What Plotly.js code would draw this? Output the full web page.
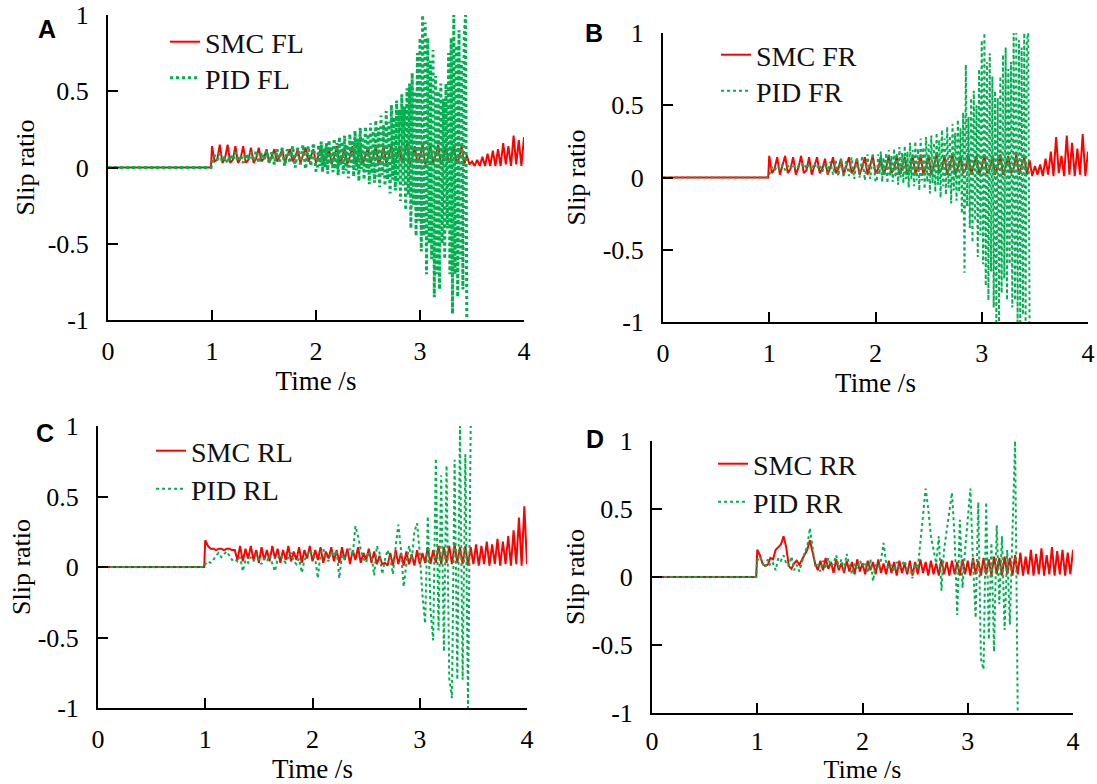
<!DOCTYPE html>
<html><head><meta charset="utf-8">
<script src="https://cdn.plot.ly/plotly-3.0.1.min.js"></script>
<style>html,body{margin:0;padding:0;background:#fff}#chart{width:1097px;height:784px}</style>
</head><body><div id="chart"></div>
<script>
// Shared time grid (s), 0.025 s step after t = 1
const TIME = [0, 0.99,
1, 1.025, 1.05, 1.075, 1.1, 1.125, 1.15, 1.175,
1.2, 1.225, 1.25, 1.275, 1.3, 1.325, 1.35, 1.375,
1.4, 1.425, 1.45, 1.475, 1.5, 1.525, 1.55, 1.575,
1.6, 1.625, 1.65, 1.675, 1.7, 1.725, 1.75, 1.775,
1.8, 1.825, 1.85, 1.875, 1.9, 1.925, 1.95, 1.975,
2, 2.025, 2.05, 2.075, 2.1, 2.125, 2.15, 2.175,
2.2, 2.225, 2.25, 2.275, 2.3, 2.325, 2.35, 2.375,
2.4, 2.425, 2.45, 2.475, 2.5, 2.525, 2.55, 2.575,
2.6, 2.625, 2.65, 2.675, 2.7, 2.725, 2.75, 2.775,
2.8, 2.825, 2.85, 2.875, 2.9, 2.925, 2.95, 2.975,
3, 3.025, 3.05, 3.075, 3.1, 3.125, 3.15, 3.175,
3.2, 3.225, 3.25, 3.275, 3.3, 3.325, 3.35, 3.375,
3.4, 3.425, 3.45, 3.475, 3.5, 3.525, 3.55, 3.575,
3.6, 3.625, 3.65, 3.675, 3.7, 3.725, 3.75, 3.775,
3.8, 3.825, 3.85, 3.875, 3.9, 3.925, 3.95, 3.975,
4];

// Finer time grid for the front-wheel PID traces (0.0125 s step after t = 2)
const TIME_FINE = [0, 0.99,
1, 1.025, 1.05, 1.075, 1.1, 1.125, 1.15, 1.175,
1.2, 1.225, 1.25, 1.275, 1.3, 1.325, 1.35, 1.375,
1.4, 1.425, 1.45, 1.475, 1.5, 1.525, 1.55, 1.575,
1.6, 1.625, 1.65, 1.675, 1.7, 1.725, 1.75, 1.775,
1.8, 1.825, 1.85, 1.875, 1.9, 1.925, 1.95, 1.975,
2,
2.0125, 2.025, 2.0375, 2.05, 2.0625, 2.075, 2.0875, 2.1,
2.1125, 2.125, 2.1375, 2.15, 2.1625, 2.175, 2.1875, 2.2,
2.2125, 2.225, 2.2375, 2.25, 2.2625, 2.275, 2.2875, 2.3,
2.3125, 2.325, 2.3375, 2.35, 2.3625, 2.375, 2.3875, 2.4,
2.4125, 2.425, 2.4375, 2.45, 2.4625, 2.475, 2.4875, 2.5,
2.5125, 2.525, 2.5375, 2.55, 2.5625, 2.575, 2.5875, 2.6,
2.6125, 2.625, 2.6375, 2.65, 2.6625, 2.675, 2.6875, 2.7,
2.7125, 2.725, 2.7375, 2.75, 2.7625, 2.775, 2.7875, 2.8,
2.8125, 2.825, 2.8375, 2.85, 2.8625, 2.875, 2.8875, 2.9,
2.9125, 2.925, 2.9375, 2.95, 2.9625, 2.975, 2.9875, 3,
3.0125, 3.025, 3.0375, 3.05, 3.0625, 3.075, 3.0875, 3.1,
3.1125, 3.125, 3.1375, 3.15, 3.1625, 3.175, 3.1875, 3.2,
3.2125, 3.225, 3.2375, 3.25, 3.2625, 3.275, 3.2875, 3.3,
3.3125, 3.325, 3.3375, 3.35, 3.3625, 3.375, 3.3875, 3.4,
3.4125, 3.425, 3.4375, 3.45];

// Panel A: front left
const smcFL = [0, 0,
0.14, 0.04, 0.05, 0.15, 0.03, 0.06, 0.15, 0.03,
0.05, 0.14, 0.03, 0.06, 0.14, 0.03, 0.05, 0.13,
0.03, 0.06, 0.13, 0.04, 0.06, 0.12, 0.03, 0.07,
0.12, 0.04, 0.07, 0.12, 0.03, 0.08, 0.12, 0.04,
0.07, 0.12, 0.03, 0.08, 0.13, 0.04, 0.07, 0.12,
0.03, 0.08, 0.13, 0.04, 0.06, 0.13, 0.02, 0.07,
0.14, 0.03, 0.06, 0.13, 0.02, 0.07, 0.14, 0.03,
0.06, 0.14, 0.02, 0.08, 0.13, 0.03, 0.07, 0.15,
0.02, 0.06, 0.14, 0.03, 0.07, 0.15, 0.02, 0.06,
0.14, 0.03, 0.08, 0.16, 0.02, 0.06, 0.14, 0.03,
0.07, 0.15, 0.02, 0.06, 0.14, 0.03, 0.08, 0.15,
0.02, 0.06, 0.14, 0.03, 0.07, 0.15, 0.03, 0.06,
0.14, 0.02, 0.08, 0.02, 0.04, 0.01, 0.05, 0.01,
0.07, 0.01, 0.09, 0.01, 0.11, 0.01, 0.12, 0.01,
0.16, 0.02, 0.14, 0.01, 0.21, 0.02, 0.18, 0.01,
0.20];
const pidFL = [0, 0,
0.03, 0.08, 0.05, 0.09, 0.04, 0.07, 0.03, 0.08,
0.05, 0.10, 0.04, 0.08, 0.03, 0.09, 0.05, 0.10,
0.04, 0.11, 0.03, 0.10, 0.05, 0.11, 0.03, 0.10,
0.02, 0.12, 0.04, 0.13, 0.01, 0.12, 0.03, 0.14,
0.00, 0.13, 0.02, 0.15, -0.01, 0.14, 0.01, 0.16,
-0.02,
-0.02, 0.15, 0.01, 0.17, -0.03, 0.13, 0.00, 0.16,
-0.04, 0.18, 0.02, 0.14, -0.03, 0.19, -0.01, 0.16,
-0.05, 0.20, 0.01, 0.17, -0.04, 0.21, -0.02, 0.15,
-0.07, 0.22, 0.00, 0.18, -0.06, 0.24, -0.02, 0.19,
-0.09, 0.26, -0.01, 0.20, -0.08, 0.27, -0.03, 0.22,
-0.11, 0.29, -0.04, 0.24, -0.10, 0.31, -0.06, 0.26,
-0.13, 0.34, -0.05, 0.28, -0.12, 0.37, -0.08, 0.30,
-0.17, 0.41, -0.08, 0.33, -0.15, 0.44, -0.10, 0.38,
-0.22, 0.48, -0.12, 0.40, -0.28, 0.52, -0.18, 0.55,
-0.40, 0.62, -0.25, 0.50, -0.45, 0.75, -0.35, 0.85,
-0.55, 1.0, -0.45, 0.95, -0.70, 0.85, -0.50, 0.70,
-0.60, 0.77, -0.85, 0.60, -0.70, 0.50, -0.80, 0.55,
-0.50, 0.45, -0.60, 0.55, -0.40, 0.75, -0.70, 0.85,
-0.96, 1.0, -0.70, 0.80, -0.85, 0.90, -0.60, 0.70,
-0.80, 0.85, 1.0, -1.0];

// Panel B: front right
const smcFR = [0, 0,
0.15, 0.03, 0.06, 0.14, 0.02, 0.08, 0.15, 0.03,
0.06, 0.14, 0.02, 0.07, 0.15, 0.03, 0.05, 0.14,
0.02, 0.08, 0.14, 0.03, 0.06, 0.13, 0.02, 0.07,
0.14, 0.03, 0.06, 0.13, 0.02, 0.08, 0.14, 0.03,
0.06, 0.13, 0.02, 0.07, 0.14, 0.02, 0.08, 0.15,
0.03, 0.06, 0.14, 0.02, 0.07, 0.15, 0.03, 0.06,
0.15, 0.02, 0.08, 0.14, 0.02, 0.07, 0.15, 0.03,
0.06, 0.16, 0.02, 0.07, 0.15, 0.02, 0.08, 0.16,
0.03, 0.06, 0.15, 0.02, 0.08, 0.16, 0.02, 0.07,
0.15, 0.03, 0.06, 0.16, 0.02, 0.08, 0.15, 0.02,
0.07, 0.16, 0.03, 0.06, 0.15, 0.02, 0.08, 0.16,
0.02, 0.07, 0.15, 0.03, 0.06, 0.16, 0.02, 0.08,
0.14, 0.02, 0.12, 0.01, 0.08, 0.02, 0.09, 0.01,
0.13, 0.02, 0.18, 0.01, 0.28, 0.03, 0.15, 0.01,
0.29, 0.02, 0.24, 0.01, 0.20, 0.02, 0.30, 0.01,
0.18];
const pidFR = [0, 0,
0.02, 0.07, 0.05, 0.08, 0.06, 0.09, 0.05, 0.08,
0.06, 0.09, 0.06, 0.08, 0.07, 0.10, 0.06, 0.09,
0.05, 0.10, 0.06, 0.09, 0.04, 0.10, 0.03, 0.11,
0.02, 0.12, 0.01, 0.13, 0.00, 0.12, 0.01, 0.14,
-0.01, 0.14, 0.00, 0.15, -0.02, 0.16, -0.01, 0.17,
-0.03,
-0.02, 0.16, 0.02, 0.18, -0.03, 0.14, 0.01, 0.17,
-0.04, 0.19, 0.01, 0.15, -0.03, 0.20, 0.00, 0.17,
-0.05, 0.21, 0.00, 0.17, -0.04, 0.22, -0.01, 0.18,
-0.07, 0.24, -0.01, 0.19, -0.06, 0.25, -0.02, 0.20,
-0.09, 0.27, -0.02, 0.21, -0.08, 0.28, -0.03, 0.23,
-0.11, 0.29, -0.04, 0.24, -0.10, 0.31, -0.05, 0.26,
-0.14, 0.33, -0.06, 0.27, -0.12, 0.35, -0.07, 0.29,
-0.18, 0.37, -0.09, 0.31, -0.16, 0.40, -0.10, 0.34,
-0.25, 0.45, -0.66, 0.78, -0.20, 0.42, -0.35, 0.55,
-0.45, 0.60, -0.30, 0.50, -0.55, 0.75, -0.40, 0.95,
-0.60, 1.0, -0.75, 0.80, -0.85, 0.86, -0.65, 0.70,
-0.90, 0.60, -1.0, 0.55, -1.0, 0.70, -0.80, 0.85,
-0.70, 0.90, -0.85, 0.75, -0.60, 0.80, -0.90, 1.0,
-0.85, 1.0, -1.0, 0.95, -1.0, 0.90, -0.95, 1.0,
-1.0, 0.95, 1.0, -1.0];

// Panel C: rear left
const smcRL = [0, 0,
0.19, 0.15, 0.13, 0.13, 0.12, 0.13, 0.13, 0.12,
0.13, 0.13, 0.12, 0.12, 0.05, 0.15, 0.04, 0.13,
0.06, 0.15, 0.05, 0.12, 0.03, 0.14, 0.05, 0.12,
0.04, 0.15, 0.06, 0.13, 0.03, 0.12, 0.05, 0.15,
0.04, 0.11, 0.05, 0.14, 0.03, 0.12, 0.06, 0.15,
0.04, 0.12, 0.05, 0.14, 0.03, 0.11, 0.06, 0.14,
0.04, 0.12, 0.03, 0.14, 0.05, 0.13, 0.02, 0.12,
0.05, 0.14, 0.03, 0.10, 0.05, 0.13, 0.03, 0.11,
0.02, 0.08, 0.02, 0.03, 0.01, 0.10, 0.01, 0.12,
0.02, 0.10, 0.01, 0.11, 0.02, 0.09, 0.01, 0.12,
0.02, 0.10, 0.03, 0.14, 0.02, 0.12, 0.03, 0.15,
0.02, 0.14, 0.03, 0.15, 0.02, 0.16, 0.03, 0.14,
0.02, 0.15, 0.01, 0.14, 0.02, 0.16, 0.01, 0.15,
0.02, 0.18, 0.01, 0.16, 0.02, 0.20, 0.01, 0.18,
0.02, 0.22, 0.01, 0.26, 0.02, 0.35, 0.01, 0.43,
0.02];
const pidRL = [0, 0,
0.02, 0.04, 0.03, 0.05, 0.08, 0.10, 0.07, 0.09,
0.11, 0.08, 0.05, 0.06, 0.04, 0.07, -0.03, 0.05,
0.03, 0.07, 0.04, 0.09, 0.05, 0.02, 0.06, 0.04,
0.08, 0.03, -0.03, 0.06, 0.09, 0.05, 0.03, 0.07,
0.10, 0.04, 0.02, 0.06, -0.04, 0.05, 0.08, 0.12,
0.09, 0.06, -0.08, 0.10, 0.13, 0.07, 0.04, 0.11,
0.08, 0.12, -0.08, 0.09, 0.06, 0.10, 0.13, 0.08,
0.29, 0.22, 0.12, 0.06, 0.03, 0.11, 0.08, -0.06,
0.15, 0.10, -0.05, 0.05, 0.12, 0.06, -0.05, 0.14,
0.30, 0.12, -0.14, 0.02, 0.15, 0.05, 0.25, 0.31,
0.10, -0.20, -0.40, 0.36, -0.30, -0.52, 0.77, -0.45,
0.65, -0.60, 0.72, -0.79, -0.93, 0.76, -0.80, 1.0,
-0.80, 0.80, -1.0, 1.0];

// Panel D: rear right
const smcRR = [0, 0,
0.20, 0.16, 0.10, 0.08, 0.09, 0.14, 0.13, 0.20,
0.22, 0.24, 0.30, 0.22, 0.08, 0.06, 0.10, 0.12,
0.09, 0.13, 0.16, 0.20, 0.27, 0.18, 0.10, 0.05,
0.12, 0.05, 0.14, 0.06, 0.11, 0.03, 0.13, 0.05,
0.10, 0.03, 0.12, 0.04, 0.11, 0.02, 0.13, 0.04,
0.10, 0.02, 0.12, 0.05, 0.11, 0.02, 0.13, 0.03,
0.10, 0.02, 0.12, 0.03, 0.11, 0.01, 0.12, 0.03,
0.10, 0.02, 0.12, 0.01, 0.11, 0.02, 0.13, 0.03,
0.11, 0.01, 0.12, 0.02, 0.10, 0.01, 0.13, 0.02,
0.11, 0.01, 0.12, 0.02, 0.11, 0.01, 0.13, 0.02,
0.12, 0.01, 0.14, 0.02, 0.12, 0.01, 0.14, 0.02,
0.13, 0.01, 0.15, 0.02, 0.14, 0.01, 0.15, 0.02,
0.14, 0.01, 0.16, 0.02, 0.18, 0.01, 0.15, 0.02,
0.20, 0.01, 0.17, 0.02, 0.21, 0.01, 0.16, 0.02,
0.22, 0.01, 0.19, 0.02, 0.20, 0.01, 0.18, 0.02,
0.20];
const pidRR = [0, 0,
0.12, 0.15, 0.10, 0.07, 0.13, 0.08, 0.10, 0.05,
0.14, 0.12, 0.16, 0.10, 0.08, 0.15, 0.05, 0.09,
0.04, 0.12, 0.18, 0.22, 0.36, 0.22, 0.08, 0.10,
0.04, 0.12, 0.06, 0.14, 0.08, 0.10, 0.16, 0.07,
0.13, 0.05, 0.17, 0.09, 0.02, 0.10, 0.06, 0.12,
0.08, 0.11, 0.03, 0.13, -0.03, 0.09, 0.07, 0.12,
0.25, 0.10, 0.06, 0.09, 0.04, 0.11, 0.07, 0.09,
0.12, 0.05, 0.08, -0.01, 0.10, 0.06, 0.25, 0.45,
0.65, 0.50, 0.30, 0.20, 0.10, 0.30, -0.10, 0.20,
0.35, 0.50, 0.62, 0.30, -0.28, 0.42, -0.08, 0.20,
0.45, 0.65, 0.10, -0.30, 0.55, -0.60, -0.68, 0.55,
-0.46, 0.25, -0.55, 0.38, -0.20, 0.30, -0.39, 0.20,
-0.35, 0.30, 1.0, -1.0];

const xTickVals = [0, 1, 2, 3, 4];
const xTickText = ['0', '1', '2', '3', '4'];
const yTickVals = [-1, -0.5, 0, 0.5, 1];
const yTickText = ['-1', '-0.5', '0', '0.5', '1'];
const panelLabels = ['A', 'B', 'C', 'D'];
const smcNames = ['SMC FL', 'SMC FR', 'SMC RL', 'SMC RR'];
const pidNames = ['PID FL', 'PID FR', 'PID RL', 'PID RR'];
const xTitle = 'Time /s';
const yTitle = 'Slip ratio';

const smcSeries = [smcFL, smcFR, smcRL, smcRR];
const pidSeries = [pidFL, pidFR, pidRL, pidRR];
const pidTimes = [TIME_FINE, TIME_FINE, TIME, TIME];

const SERIF = '"Liberation Serif", "Times New Roman", serif';
const W = 1097, H = 784;
// plot boxes in pixels: [left, right, top, bottom]
const boxes = [[108, 524, 15, 320], [663, 1088, 33, 322], [98, 527, 426, 708], [652, 1073, 441, 713]];
// legend: left x of the entry, centre y of row 1 and row 2 (pixels)
const legendPos = [[165, 42, 78], [716, 55, 91], [151, 451, 489], [713, 464, 502]];
const labelPos = [[47, 29], [594, 33], [45, 433], [595, 439]];
const yTitleStandoff = [6, 10, 0, 0];
const xTickStandoff = [7, 7, 7, 4];
const xTitleStandoff = [4, 4, 4, 8];
const xTitleSize = [27, 27, 27, 26];

const traces = [];
const layout = {
  width: W, height: H,
  margin: {l: 0, r: 0, t: 0, b: 0},
  paper_bgcolor: '#fff', plot_bgcolor: 'rgba(0,0,0,0)',
  showlegend: true,
  annotations: []
};

function legendBox(x, y) {
  return {
    x: x / W, y: 1 - y / H, xanchor: 'left', yanchor: 'middle',
    bgcolor: 'rgba(0,0,0,0)', borderwidth: 0, tracegroupgap: 0,
    font: {family: SERIF, size: 28, color: '#111'}
  };
}

for (let i = 0; i < 4; i++) {
  const sfx = i === 0 ? '' : String(i + 1);
  const [l, r, t, b] = boxes[i];
  const legA = 'legend' + (2 * i === 0 ? '' : String(2 * i + 1));
  const legB = 'legend' + String(2 * i + 2);
  traces.push({
    x: TIME, y: smcSeries[i], xaxis: 'x' + sfx, yaxis: 'y' + sfx,
    type: 'scatter', mode: 'lines', name: smcNames[i], legend: legA,
    line: {color: '#ff0000', width: 2}
  });
  traces.push({
    x: pidTimes[i], y: pidSeries[i], xaxis: 'x' + sfx, yaxis: 'y' + sfx,
    type: 'scatter', mode: 'lines', name: pidNames[i], legend: legB,
    line: {color: '#00b050', width: i === 0 ? 3 : 2, dash: 'dot'}
  });
  const common = {
    ticks: 'inside', ticklen: 10, tickwidth: 2, tickcolor: '#000',
    showline: true, linewidth: 2, linecolor: '#000',
    showgrid: false, zeroline: false, fixedrange: true,
    tickfont: {family: SERIF, size: 26, color: '#000'},
    tickmode: 'array'
  };
  layout['xaxis' + sfx] = Object.assign({}, common, {
    domain: [l / W, r / W], anchor: 'y' + sfx, range: [0, 4],
    tickvals: xTickVals, ticktext: xTickText, ticklabelstandoff: xTickStandoff[i],
    title: {text: xTitle, font: {family: SERIF, size: xTitleSize[i], color: '#000'}, standoff: xTitleStandoff[i]}
  });
  layout['yaxis' + sfx] = Object.assign({}, common, {
    domain: [1 - b / H, 1 - t / H], anchor: 'x' + sfx, range: [-1, 1],
    tickvals: yTickVals, ticktext: yTickText, ticklabelstandoff: 12,
    title: {text: yTitle, font: {family: SERIF, size: 26, color: '#000'}, standoff: yTitleStandoff[i]}
  });
  layout[legA] = legendBox(legendPos[i][0], legendPos[i][1]);
  layout[legB] = legendBox(legendPos[i][0], legendPos[i][2]);
  layout.annotations.push({
    text: '<b>' + panelLabels[i] + '</b>', xref: 'paper', yref: 'paper',
    x: labelPos[i][0] / W, y: 1 - labelPos[i][1] / H, xanchor: 'center', yanchor: 'middle',
    showarrow: false, font: {family: '"Liberation Sans", Arial, sans-serif', size: 25, color: '#000'}
  });
}

Plotly.newPlot('chart', traces, layout, {staticPlot: true, displayModeBar: false});
</script>
</body></html>
